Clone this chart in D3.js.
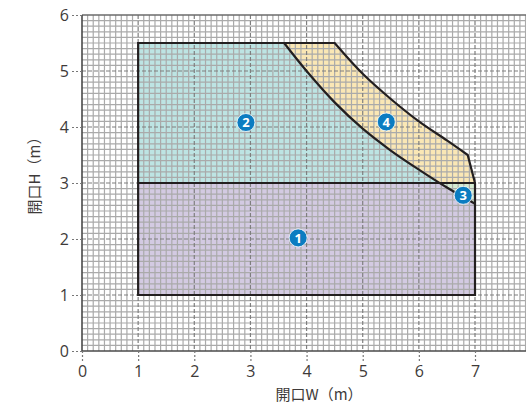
<!DOCTYPE html>
<html>
<head>
<meta charset="utf-8">
<script src="https://cdn.jsdelivr.net/npm/d3@7"></script>
<style>
  body { margin: 0; background: #fff; }
  svg { display: block; }
</style>
</head>
<body>
<svg></svg>
<script>
// tick labels
const xTicks = [0, 1, 2, 3, 4, 5, 6, 7];
const yTicks = [0, 1, 2, 3, 4, 5, 6];

// boundaries (W, H in m)
const lowerCurve = [[3.6, 5.5], [4.0, 5.0], [4.5, 4.44], [5.0, 3.97], [5.5, 3.58],
    [6.0, 3.24], [6.5, 2.92], [7, 2.63]];
const upperCurve = [[4.5, 5.5], [5.0, 4.95], [5.5, 4.5], [6.0, 4.1], [6.5, 3.76], [6.87, 3.5]];
const upperEnd = [7, 3.0];
const outerBox = { w0: 1, w1: 7, h0: 1, h1: 5.5, split: 3 };

// numbered markers
const markerIds = ['1', '2', '3', '4'];
const markerPos = [[3.85, 2.02], [2.92, 4.08], [6.79, 2.78], [5.42, 4.09]];

const svgWidth = 526;
const svgHeight = 405;

const svg = d3.select('svg')
    .attr('width', svgWidth)
    .attr('height', svgHeight);

const x = d3.scaleLinear().domain([0, 7]).range([82, 475]);
const y = d3.scaleLinear().domain([0, 6]).range([351, 15]);

const line = d3.line().x(d => x(d[0])).y(d => y(d[1]));
const smooth = d3.line().x(d => x(d[0])).y(d => y(d[1])).curve(d3.curveCatmullRom.alpha(0.5));
const cont = s => s.replace(/^M/, 'L');

const b = outerBox;
const upperRev = upperCurve.slice().reverse();

const defs = svg.append('defs');
defs.append('clipPath').attr('id', 'above')
    .append('rect')
    .attr('x', 0).attr('y', 0)
    .attr('width', svgWidth).attr('height', y(b.split));
defs.append('clipPath').attr('id', 'below')
    .append('rect')
    .attr('x', 0).attr('y', y(b.split))
    .attr('width', svgWidth).attr('height', svgHeight);

// region 1
svg.append('rect')
    .attr('x', x(b.w0)).attr('y', y(b.split))
    .attr('width', x(b.w1) - x(b.w0))
    .attr('height', y(b.h0) - y(b.split))
    .attr('fill', '#d3cae2');

// region 2
const leftPath = line([[b.w0, b.split], [b.w0, b.h1]]) + cont(smooth(lowerCurve)) + 'Z';
svg.append('path')
    .attr('d', leftPath)
    .attr('fill', '#bde4e3')
    .attr('clip-path', 'url(#above)');

// band between curves: region 4 above the split, region 3 below
const bandPath = smooth(lowerCurve) + cont(line([upperEnd, upperRev[0]])) + cont(smooth(upperRev)) + 'Z';
svg.append('path')
    .attr('d', bandPath)
    .attr('fill', '#fae7b5')
    .attr('clip-path', 'url(#above)');
svg.append('path')
    .attr('d', bandPath)
    .attr('fill', '#d5ebd2')
    .attr('clip-path', 'url(#below)');

// grid
const grid = svg.append('g');
const minorX = d3.range(0, 81).map(i => i / 10).filter(v => v % 1 !== 0);
const minorY = d3.range(0, 61).map(i => i / 10).filter(v => v % 1 !== 0);

grid.selectAll('.vx').data(minorX).enter().append('line')
    .attr('x1', d => x(d)).attr('x2', d => x(d))
    .attr('y1', y(6)).attr('y2', y(0))
    .attr('stroke', '#aaa').attr('stroke-width', 1.2);
grid.selectAll('.hy').data(minorY).enter().append('line')
    .attr('x1', x(0)).attr('x2', svgWidth)
    .attr('y1', d => y(d)).attr('y2', d => y(d))
    .attr('stroke', '#aaa').attr('stroke-width', 1.2);

grid.selectAll('.mx').data(xTicks.slice(1).concat([8])).enter().append('line')
    .attr('x1', d => x(d)).attr('x2', d => x(d))
    .attr('y1', y(6)).attr('y2', y(0))
    .attr('stroke', '#7f7f7f').attr('stroke-width', 1.2)
    .attr('stroke-dasharray', '4,2');
grid.selectAll('.my').data(yTicks.slice(1, -1)).enter().append('line')
    .attr('x1', x(0)).attr('x2', svgWidth)
    .attr('y1', d => y(d)).attr('y2', d => y(d))
    .attr('stroke', '#7f7f7f').attr('stroke-width', 1.2)
    .attr('stroke-dasharray', '4,2');
grid.append('line')
    .attr('x1', x(0)).attr('x2', svgWidth)
    .attr('y1', y(6)).attr('y2', y(6))
    .attr('stroke', '#6b6b6b').attr('stroke-width', 1.3);

// outlines
const ink = '#231f20';
const outlinePath = line([[b.w0, b.h1], [b.w0, b.h0], [b.w1, b.h0], upperEnd, upperRev[0]])
    + cont(smooth(upperRev)) + 'Z';
svg.append('path')
    .attr('d', outlinePath)
    .attr('fill', 'none').attr('stroke', ink).attr('stroke-width', 2.2)
    .attr('stroke-linejoin', 'miter');
svg.append('path')
    .attr('d', line([[b.w0, b.split], [b.w1, b.split]]))
    .attr('fill', 'none').attr('stroke', ink).attr('stroke-width', 2.2);
svg.append('path')
    .attr('d', smooth(lowerCurve))
    .attr('fill', 'none').attr('stroke', ink).attr('stroke-width', 2.2);

// axes
const axisColor = '#4a4a4a';
svg.append('line')
    .attr('x1', x(0)).attr('x2', x(0)).attr('y1', y(6)).attr('y2', y(0))
    .attr('stroke', axisColor).attr('stroke-width', 1.6);
svg.append('line')
    .attr('x1', x(0)).attr('x2', svgWidth).attr('y1', y(0)).attr('y2', y(0))
    .attr('stroke', axisColor).attr('stroke-width', 1.6);

const txt = '#3e3a39';
const yAxis = svg.append('g')
    .attr('transform', `translate(${x(0)},0)`)
    .call(d3.axisLeft(y).tickValues(yTicks).tickFormat(d3.format('d')).tickSize(10).tickPadding(3));
const xAxis = svg.append('g')
    .attr('transform', `translate(0,${y(0)})`)
    .call(d3.axisBottom(x).tickValues(xTicks).tickFormat(d3.format('d')).tickSize(11).tickPadding(4));
[yAxis, xAxis].forEach(g => {
    g.select('.domain').remove();
    g.selectAll('.tick line')
        .attr('stroke', '#777').attr('stroke-width', 1.2)
        .attr('stroke-dasharray', '2,2');
    g.selectAll('.tick text')
        .attr('fill', txt)
        .attr('font-family', '"Open Sans", "Noto Sans", sans-serif')
        .attr('font-size', '16px');
});

svg.append('text')
    .attr('x', 319).attr('y', 400)
    .attr('text-anchor', 'middle')
    .attr('fill', txt)
    .attr('font-family', '"Noto Sans CJK JP", sans-serif')
    .attr('font-size', '15px')
    .text('開口W（m）');
svg.append('text')
    .attr('transform', 'translate(40,172) rotate(-90)')
    .attr('text-anchor', 'middle')
    .attr('fill', txt)
    .attr('font-family', '"Noto Sans CJK JP", sans-serif')
    .attr('font-size', '15px')
    .text('開口H（m）');

// markers
const marks = svg.selectAll('.mark')
    .data(markerIds)
    .enter().append('g')
    .attr('transform', (d, i) => `translate(${x(markerPos[i][0])},${y(markerPos[i][1])})`);
marks.append('circle')
    .attr('r', 9)
    .attr('fill', '#0b7cc1')
    .attr('stroke', '#fff').attr('stroke-width', 0.8);
marks.append('text')
    .attr('text-anchor', 'middle')
    .attr('dy', '0.36em')
    .attr('fill', '#fff')
    .attr('font-family', '"Open Sans", sans-serif')
    .attr('font-weight', 'bold')
    .attr('font-size', '13px')
    .text(d => d);
</script>
</body>
</html>
